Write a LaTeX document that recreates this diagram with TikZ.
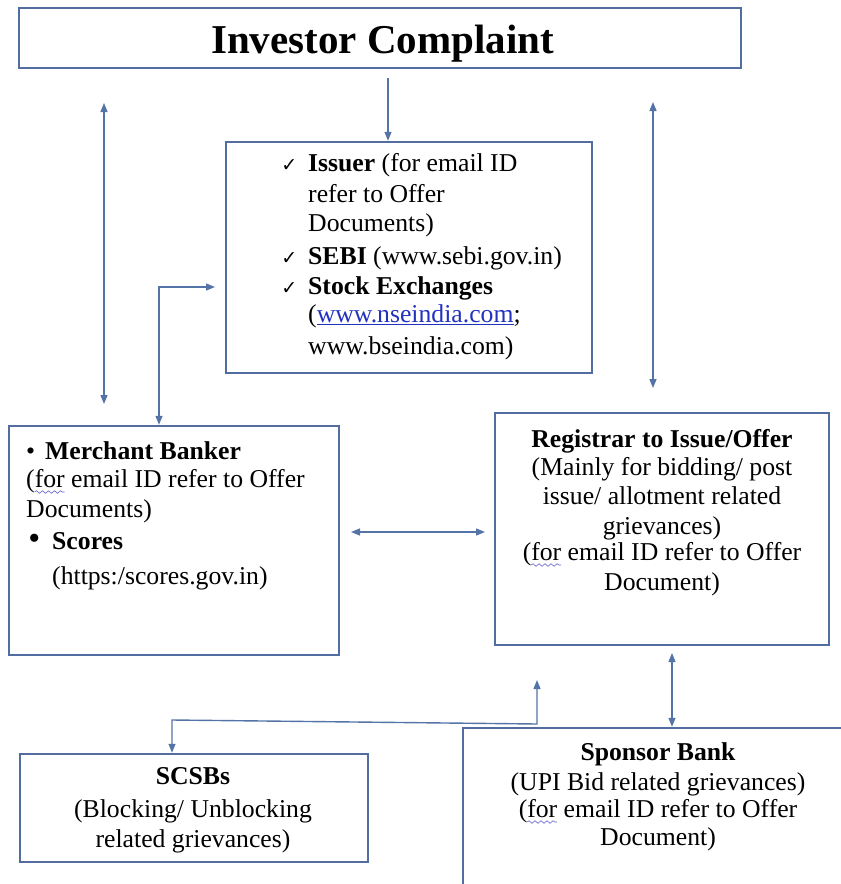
\documentclass[tikz,border=0pt]{standalone}
\usepackage{fontspec}
\setmainfont{LiberationSerif}[Extension=.ttf,UprightFont=*-Regular,BoldFont=*-Bold,ItalicFont=*-Italic,BoldItalicFont=*-BoldItalic]
\newfontfamily\symfont{DejaVu Sans}
\usetikzlibrary{arrows.meta,decorations.pathmorphing}
\definecolor{boxcol}{RGB}{82,110,160}
\definecolor{conncol}{RGB}{84,116,168}
\definecolor{linkblue}{RGB}{35,50,190}
\definecolor{wavecol}{RGB}{100,100,210}
\newcommand\bodysize{\fontsize{25.7}{30}\selectfont}
\newcommand\chk{\llap{{\symfont\fontsize{19}{19}\selectfont ✓}\hspace{11pt}}}
\begin{document}
\begin{tikzpicture}[x=1pt,y=-1pt,
  box/.style={draw=boxcol,line width=2.5pt,inner sep=0pt},
  txt/.style={inner sep=0pt,anchor=base west,font=\bodysize},
  ctxt/.style={inner sep=0pt,anchor=base,font=\bodysize},
  conn/.style={draw=conncol,line width=1.4pt},
  dblarrow/.style={{Triangle[length=9pt,width=7pt]}-{Triangle[length=9pt,width=7pt]}},
  sglarrow/.style={-{Triangle[length=9pt,width=7pt]}},
  spellwave/.style={draw=wavecol,line width=0.6pt,decorate,decoration={snake,amplitude=1.3pt,segment length=6pt}}]
\useasboundingbox (0,0) rectangle (841,884);
\clip (0,0) rectangle (841,884);

% Investor Complaint
\node[box,minimum width=722pt,minimum height=60pt] (ic) at (380,38) {};
\node[inner sep=0pt,anchor=base,font=\fontsize{41}{41}\selectfont\bfseries] (ictitle) at (382.5,53) {Investor Complaint};

% centre box
\node[box,minimum width=366pt,minimum height=231pt] (ctr) at (409,257.5) {};
\node[txt] (c1) at (308,171) {\chk\textbf{Issuer} (for email ID};
\node[txt] (c2) at (308,202) {refer to Offer};
\node[txt] (c3) at (308,231) {Documents)};
\node[txt] (c4) at (308,264) {\chk\textbf{SEBI} (www.sebi.gov.in)};
\node[txt] (c5) at (308,294) {\chk\textbf{Stock Exchanges}};
\node[txt] (c6) at (308,322) {(\textcolor{linkblue}{\underline{www.nseindia.com}};};
\node[txt] (c7) at (308,354) {www.bseindia.com)};

% Merchant banker
\node[box,minimum width=330pt,minimum height=229pt] (mb) at (174,540.5) {};
\node[txt] (mb1) at (45,459) {\llap{\textbullet\hspace{10pt}}\textbf{Merchant Banker}};
\node[txt] (mb2) at (26,487) {(for email ID refer to Offer};
\node[txt] (mb3) at (26,517) {Documents)};
\node[txt] (mb4) at (52,549) {\llap{{\fontsize{34}{34}\selectfont •}\hspace{12pt}}\textbf{Scores}};
\node[txt] (mb5) at (52,584) {(https:/scores.gov.in)};

% Registrar
\node[box,minimum width=334pt,minimum height=232pt] (reg) at (662,529) {};
\node[ctxt] (reg1) at (662,447) {\textbf{Registrar to Issue/Offer}};
\node[ctxt] (reg2) at (662,475) {(Mainly for bidding/ post};
\node[ctxt] (reg3) at (662,504) {issue/ allotment related};
\node[ctxt] (reg4) at (662,534) {grievances)};
\node[ctxt] (reg5) at (662,560) {(for email ID refer to Offer};
\node[ctxt] (reg6) at (662,590) {Document)};

% SCSBs
\node[box,minimum width=348pt,minimum height=108pt] (scsb) at (194,808) {};
\node[ctxt] (sc1) at (193,784) {\textbf{SCSBs}};
\node[ctxt] (sc2) at (193,817) {(Blocking/ Unblocking};
\node[ctxt] (sc3) at (193,847) {related grievances)};

% Sponsor bank
\node[box,minimum width=397pt,minimum height=177pt] (sp) at (661.5,816.5) {};
\node[ctxt] (sp1) at (658,760) {\textbf{Sponsor Bank}};
\node[ctxt] (sp2) at (658,790) {(UPI Bid related grievances)};
\node[ctxt] (sp3) at (658,817) {(for email ID refer to Offer};
\node[ctxt] (sp4) at (658,845) {Document)};

% spell-check squiggles
\draw[spellwave] ([shift={(8.6,5)}]mb2.base west) -- ++(30,0);
\draw[spellwave] ([shift={(8.6,5)}]reg5.base west) -- ++(30,0);
\draw[spellwave] ([shift={(8.6,5)}]sp3.base west) -- ++(30,0);

% connectors
\coordinate (a1) at (388,78);
\draw[conn,sglarrow] (a1) -- (a1 |- ctr.north);
\coordinate (l1) at (104,103);
\coordinate (l2) at (104,404);
\draw[conn,dblarrow] (l1) -- (l2);
\coordinate (r1) at (653,102);
\coordinate (r2) at (653,388);
\draw[conn,dblarrow] (r1) -- (r2);
\coordinate (m1) at (159,287);
\coordinate (m2) at (215,287);
\draw[conn,dblarrow] (m1 |- mb.north) -- (m1) -- (m2);
\coordinate (h1) at (351,532);
\coordinate (h2) at (485,532);
\draw[conn,dblarrow] (h1) -- (h2);
\coordinate (q1) at (172,720);
\coordinate (q2) at (537,724);
\coordinate (q3) at (537,680);
\draw[conn,dblarrow] (q1 |- scsb.north) -- (q1) -- (q2) -- (q3);
\coordinate (v1) at (672,653);
\draw[conn,dblarrow] (v1) -- (v1 |- sp.north);
\end{tikzpicture}
\end{document}
